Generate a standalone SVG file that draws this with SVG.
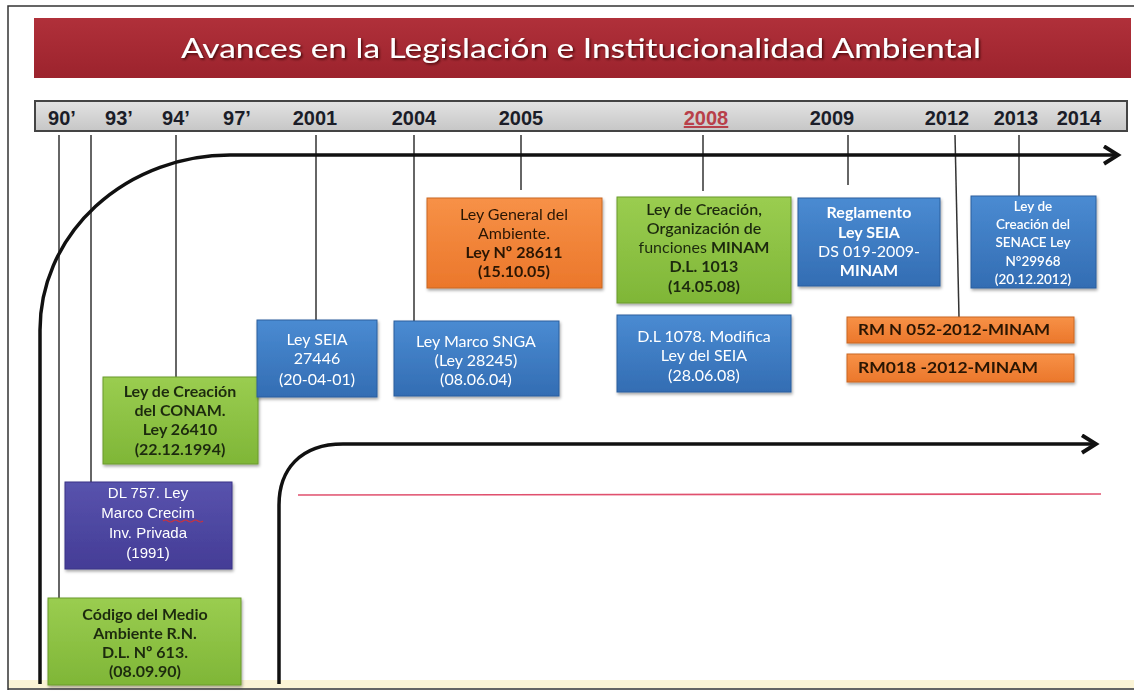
<svg xmlns="http://www.w3.org/2000/svg" width="1134" height="694" viewBox="0 0 1134 694">
<defs>
<style>
.yr{font-family:"Liberation Sans",Arial,sans-serif;font-weight:bold;font-size:20px;fill:#1b1d28;text-anchor:middle}
.bt{font-family:Lato,"Open Sans",sans-serif;font-size:16px;text-anchor:middle}
.dk{fill:#1f2c10}
.wh{fill:#ffffff}
.od{fill:#2a1606}
.b{font-weight:bold}
.tick{stroke:#333;stroke-width:1.5;fill:none}
.big{stroke:#111;stroke-width:3.5;fill:none}
.box{filter:url(#sh)}
</style>
<linearGradient id="gGreen" x1="0" y1="0" x2="0" y2="1"><stop offset="0" stop-color="#9acd50"/><stop offset="1" stop-color="#7fb637"/></linearGradient>
<linearGradient id="gBlue" x1="0" y1="0" x2="0" y2="1"><stop offset="0" stop-color="#4a8bd2"/><stop offset="1" stop-color="#336db3"/></linearGradient>
<linearGradient id="gOrange" x1="0" y1="0" x2="0" y2="1"><stop offset="0" stop-color="#f79147"/><stop offset="1" stop-color="#eb772b"/></linearGradient>
<linearGradient id="gPurple" x1="0" y1="0" x2="0" y2="1"><stop offset="0" stop-color="#5853ad"/><stop offset="1" stop-color="#443c96"/></linearGradient>
<linearGradient id="gRed" x1="0" y1="0" x2="0" y2="1"><stop offset="0" stop-color="#b0303a"/><stop offset="1" stop-color="#9c232d"/></linearGradient>
<linearGradient id="gBar" x1="0" y1="0" x2="0" y2="1"><stop offset="0" stop-color="#e3e3e3"/><stop offset="1" stop-color="#c6c6c6"/></linearGradient>
<filter id="sh" x="-10%" y="-10%" width="130%" height="140%"><feDropShadow dx="1" dy="2" stdDeviation="1.5" flood-color="#000" flood-opacity="0.35"/></filter>
<filter id="tsh" x="-5%" y="-20%" width="110%" height="150%"><feDropShadow dx="1.5" dy="1.5" stdDeviation="1" flood-color="#300" flood-opacity="0.8"/></filter>
<marker id="arr" viewBox="0 0 12 12" refX="10" refY="6" markerWidth="6" markerHeight="6" orient="auto" markerUnits="strokeWidth"><path d="M2,1 L10,6 L2,11" fill="none" stroke="#111" stroke-width="2.2"/></marker>
</defs>
<rect width="1134" height="694" fill="#fff"/>
<rect x="8" y="680" width="1126" height="8" fill="#fbf4d6"/>
<path d="M8,690 V6 H1134 M8,689 H1134" fill="none" stroke="#333" stroke-width="1.5"/>

<g id="title">
<rect x="34" y="18" width="1097" height="60" fill="url(#gRed)"/>
<text x="581" y="58" textLength="800" lengthAdjust="spacingAndGlyphs" font-family="Lato,'Open Sans',sans-serif" font-size="27" fill="#fff" text-anchor="middle" filter="url(#tsh)">Avances en la Legislación e Institucionalidad  Ambiental</text>
</g>

<g id="timeline-bar">
<rect x="35" y="101" width="1092" height="30" fill="url(#gBar)" stroke="#444" stroke-width="2"/>
<text class="yr" x="62" y="125">90’</text>
<text class="yr" x="119" y="125">93’</text>
<text class="yr" x="176" y="125">94’</text>
<text class="yr" x="237" y="125">97’</text>
<text class="yr" x="315" y="125">2001</text>
<text class="yr" x="414" y="125">2004</text>
<text class="yr" x="521" y="125">2005</text>
<text class="yr" x="706" y="125" style="fill:#b8404a;text-decoration:underline">2008</text>
<text class="yr" x="832" y="125">2009</text>
<text class="yr" x="947" y="125">2012</text>
<text class="yr" x="1016" y="125">2013</text>
<text class="yr" x="1079" y="125">2014</text>
</g>

<g id="connectors">
<line class="tick" x1="59" y1="135" x2="59" y2="598"/>
<line class="tick" x1="91" y1="135" x2="91" y2="482"/>
<line class="tick" x1="176" y1="135" x2="176" y2="377"/>
<line class="tick" x1="316" y1="135" x2="316" y2="320"/>
<line class="tick" x1="414" y1="135" x2="414" y2="321"/>
<line class="tick" x1="521" y1="135" x2="521" y2="190"/>
<line class="tick" x1="703" y1="135" x2="703" y2="191"/>
<line class="tick" x1="848" y1="135" x2="848" y2="185"/>
<line class="tick" x1="955" y1="135" x2="959" y2="317"/>
<line class="tick" x1="1019" y1="135" x2="1019" y2="196"/>
<path class="big" d="M40,684 V330 A190,175 0 0 1 230,155 H1118" marker-end="url(#arr)"/>
<path class="big" d="M279,684 V505 C279,470 300,444 343,444 H1096" marker-end="url(#arr)"/>
<line x1="298" y1="495" x2="1101" y2="494" stroke="#e0506e" stroke-width="1.6"/>
</g>

<g id="n-codigo" class="box">
<rect x="48" y="598" width="193" height="87" fill="url(#gGreen)" stroke="#6a9a2c" stroke-width="1"/>
<text class="bt dk b" x="145" y="620">Código del Medio</text>
<text class="bt dk b" x="145" y="639">Ambiente R.N.</text>
<text class="bt dk b" x="145" y="658">D.L. Nº 613.</text>
<text class="bt dk b" x="145" y="677">(08.09.90)</text>
</g>

<g id="n-dl757" class="box">
<rect x="65" y="482" width="167" height="87" fill="url(#gPurple)" stroke="#3a3388" stroke-width="1"/>
<text class="wh" font-family="'Liberation Sans',Arial,sans-serif" font-size="15" text-anchor="middle" x="148" y="498">DL 757. Ley</text>
<text class="wh" font-family="'Liberation Sans',Arial,sans-serif" font-size="15" text-anchor="middle" x="148" y="518">Marco Crecim</text>
<text class="wh" font-family="'Liberation Sans',Arial,sans-serif" font-size="15" text-anchor="middle" x="148" y="538">Inv. Privada</text>
<text class="wh" font-family="'Liberation Sans',Arial,sans-serif" font-size="15" text-anchor="middle" x="148" y="558">(1991)</text>
<path d="M163,521 q2.5,-2 5,0 t5,0 t5,0 t5,0 t5,0 t5,0 t5,0 t5,0" fill="none" stroke="#d0303a" stroke-width="1.2"/>
</g>

<g id="n-conam" class="box">
<rect x="103" y="377" width="155" height="87" fill="url(#gGreen)" stroke="#6a9a2c" stroke-width="1"/>
<text class="bt dk b" x="180" y="397">Ley de Creación</text>
<text class="bt dk b" x="180" y="416">del CONAM.</text>
<text class="bt dk b" x="180" y="435">Ley 26410</text>
<text class="bt dk b" x="180" y="455">(22.12.1994)</text>
</g>

<g id="n-seia" class="box">
<rect x="257" y="320" width="120" height="77" fill="url(#gBlue)" stroke="#2b5e9e" stroke-width="1"/>
<text class="bt wh" x="317" y="345">Ley SEIA</text>
<text class="bt wh" x="317" y="364">27446</text>
<text class="bt wh" x="317" y="385">(20-04-01)</text>
</g>

<g id="n-snga" class="box">
<rect x="394" y="321" width="165" height="75" fill="url(#gBlue)" stroke="#2b5e9e" stroke-width="1"/>
<text class="bt wh" x="476" y="347">Ley  Marco SNGA</text>
<text class="bt wh" x="476" y="366">(Ley 28245)</text>
<text class="bt wh" x="476" y="385">(08.06.04)</text>
</g>

<g id="n-lga" class="box">
<rect x="427" y="198" width="175" height="90" fill="url(#gOrange)" stroke="#c96622" stroke-width="1"/>
<text class="bt od" x="514" y="220">Ley  General del</text>
<text class="bt od" x="514" y="239">Ambiente.</text>
<text class="bt od b" x="514" y="258">Ley Nº 28611</text>
<text class="bt od b" x="514" y="277">(15.10.05)</text>
</g>

<g id="n-minam" class="box">
<rect x="617" y="197" width="174" height="106" fill="url(#gGreen)" stroke="#6a9a2c" stroke-width="1"/>
<text class="bt dk" font-weight="600" x="704" y="215">Ley de Creación,</text>
<text class="bt dk" font-weight="600" x="704" y="234">Organización de</text>
<text class="bt dk" x="704" y="253">funciones <tspan font-weight="bold">MINAM</tspan></text>
<text class="bt dk b" x="704" y="272">D.L. 1013</text>
<text class="bt dk b" x="704" y="292">(14.05.08)</text>
</g>

<g id="n-reglamento" class="box">
<rect x="798" y="198" width="142" height="88" fill="url(#gBlue)" stroke="#2b5e9e" stroke-width="1"/>
<text class="bt wh b" x="869" y="218">Reglamento</text>
<text class="bt wh b" x="869" y="238">Ley SEIA</text>
<text class="bt wh" x="869" y="257">DS 019-2009-</text>
<text class="bt wh b" x="869" y="276">MINAM</text>
</g>

<g id="n-senace" class="box">
<rect x="971" y="196" width="125" height="92" fill="url(#gBlue)" stroke="#2b5e9e" stroke-width="1"/>
<text class="bt wh" font-size="13.5" font-weight="600" style="font-size:13.5px" x="1033" y="211">Ley de</text>
<text class="bt wh" font-weight="600" style="font-size:13.5px" x="1033" y="229">Creación del</text>
<text class="bt wh" font-weight="600" style="font-size:13.5px" x="1033" y="247">SENACE Ley</text>
<text class="bt wh" font-weight="600" style="font-size:13.5px" x="1033" y="266">N°29968</text>
<text class="bt wh" font-weight="600" style="font-size:13.5px" x="1033" y="284">(20.12.2012)</text>
</g>

<g id="n-dl1078" class="box">
<rect x="617" y="315" width="174" height="77" fill="url(#gBlue)" stroke="#2b5e9e" stroke-width="1"/>
<text class="bt wh" x="704" y="342">D.L 1078. Modifica</text>
<text class="bt wh" x="704" y="361">Ley del SEIA</text>
<text class="bt wh" x="704" y="381">(28.06.08)</text>
</g>

<g id="n-rm052" class="box">
<rect x="847" y="317" width="227" height="26" fill="url(#gOrange)" stroke="#c96622" stroke-width="1"/>
<text font-family="Lato,'Open Sans',sans-serif" font-size="15" font-weight="bold" fill="#2a1606" x="858" y="335" textLength="192" lengthAdjust="spacingAndGlyphs">RM N 052-2012-MINAM</text>
</g>

<g id="n-rm018" class="box">
<rect x="847" y="354" width="227" height="28" fill="url(#gOrange)" stroke="#c96622" stroke-width="1"/>
<text font-family="Lato,'Open Sans',sans-serif" font-size="15" font-weight="bold" fill="#2a1606" x="858" y="373" textLength="180" lengthAdjust="spacingAndGlyphs">RM018 -2012-MINAM</text>
</g>
</svg>
